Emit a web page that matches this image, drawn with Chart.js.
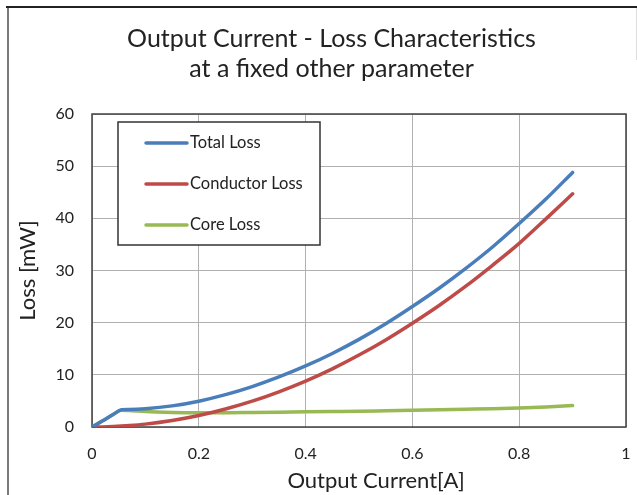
<!DOCTYPE html>
<html>
<head>
<meta charset="utf-8">
<script src="https://cdn.jsdelivr.net/npm/chart.js@4/dist/chart.umd.min.js"></script>
<style>
  html, body { margin: 0; padding: 0; background: #fff; }
  canvas { display: block; }
</style>
</head>
<body>
<canvas id="loss" width="637" height="495"></canvas>
<script>
// output current [A]
const current = [0, 0.02, 0.04, 0.055, 0.07, 0.1, 0.15, 0.2, 0.25, 0.3, 0.35, 0.4, 0.45, 0.5, 0.55, 0.6, 0.65, 0.7, 0.75, 0.8, 0.85, 0.9];
// losses [mW]
const totalLoss     = [0, 1.2, 2.45, 3.3, 3.35, 3.5, 4.05, 4.95, 6.2, 7.75, 9.6, 11.7, 14.1, 16.8, 19.8, 23.1, 26.6, 30.4, 34.5, 39.0, 43.7, 48.8];
const conductorLoss = [0, 0.02, 0.09, 0.17, 0.27, 0.55, 1.24, 2.2, 3.45, 4.95, 6.75, 8.8, 11.15, 13.8, 16.7, 19.9, 23.3, 27.0, 31.0, 35.2, 39.9, 44.7];
const coreLoss      = [0, 1.2, 2.4, 3.2, 3.15, 2.95, 2.8, 2.75, 2.75, 2.8, 2.85, 2.9, 2.95, 3.0, 3.1, 3.2, 3.3, 3.4, 3.5, 3.65, 3.85, 4.1];
const seriesNames = ['Total Loss', 'Conductor Loss', 'Core Loss'];
const seriesColors = ['#4a7ebb', '#be4b48', '#98b954'];
const xTicks = ['0', '0.2', '0.4', '0.6', '0.8', '1'];
const xTitle = 'Output Current[A]';

const FONT = 'Lato, "Open Sans", sans-serif';

function pts(ys) {
  return current.map((x, i) => ({ x: x, y: ys[i] }));
}

// outer frame, plot border, x title and boxed legend
const decor = {
  id: 'decor',
  beforeDraw(chart) {
    const c = chart.ctx;
    c.save();
    c.fillStyle = '#fff';
    c.fillRect(0, 0, chart.width, chart.height);
    c.strokeStyle = '#7a7a7a';
    c.lineWidth = 2;
    c.beginPath(); c.moveTo(8, 7); c.lineTo(8, chart.height); c.stroke();
    c.strokeStyle = '#222';
    c.beginPath(); c.moveTo(6, 7); c.lineTo(chart.width, 7); c.stroke();
    c.strokeStyle = '#ddd';
    c.lineWidth = 1;
    c.beginPath(); c.moveTo(636.5, 8); c.lineTo(636.5, 60); c.stroke();
    c.restore();
  },
  beforeDatasetsDraw(chart) {
    const a = chart.chartArea;
    const c = chart.ctx;
    c.save();
    c.strokeStyle = '#404040';
    c.lineWidth = 1.5;
    c.strokeRect(a.left, a.top, a.right - a.left, a.bottom - a.top);
    c.restore();
  },
  afterDraw(chart) {
    const a = chart.chartArea;
    const c = chart.ctx;
    c.save();
    // axis title sits a little right of the plot centre
    c.font = '22px ' + FONT;
    c.fillStyle = '#222';
    c.textAlign = 'center';
    c.textBaseline = 'middle';
    c.fillText(xTitle, (a.left + a.right) / 2 + 17, chart.height - 14);

    const bx = a.left + 26, by = a.top + 8, bw = 202, bh = 123;
    c.textAlign = 'left';
    c.fillStyle = '#fff';
    c.fillRect(bx, by, bw, bh);
    c.strokeStyle = '#333';
    c.lineWidth = 1.5;
    c.strokeRect(bx, by, bw, bh);
    c.font = '16.5px ' + FONT;
    c.fillStyle = '#222';
    chart.data.datasets.forEach((ds, i) => {
      const y = by + 21 + i * 41;
      c.strokeStyle = ds.borderColor;
      c.lineWidth = 3.5;
      c.lineCap = 'round';
      c.beginPath(); c.moveTo(bx + 28, y); c.lineTo(bx + 69, y); c.stroke();
      c.fillText(ds.label, bx + 72, y);
    });
    c.restore();
  }
};

new Chart(document.getElementById('loss'), {
  type: 'scatter',
  data: {
    datasets: [
      { label: seriesNames[0], data: pts(totalLoss), borderColor: seriesColors[0] },
      { label: seriesNames[1], data: pts(conductorLoss), borderColor: seriesColors[1] },
      { label: seriesNames[2], data: pts(coreLoss), borderColor: seriesColors[2] }
    ].map(d => Object.assign(d, {
      showLine: true, pointRadius: 0, borderWidth: 3.5,
      cubicInterpolationMode: 'monotone', fill: false,
      borderCapStyle: 'round', backgroundColor: d.borderColor
    }))
  },
  options: {
    responsive: false,
    animation: false,
    events: [],
    layout: { padding: { left: 37, right: 11, top: 0, bottom: 0 } },
    plugins: {
      legend: { display: false },
      tooltip: { enabled: false },
      title: {
        display: true,
        text: ['Output Current - Loss Characteristics', 'at a fixed other parameter'],
        color: '#222',
        font: { family: FONT, size: 25, weight: 'normal', lineHeight: 30 / 25 },
        padding: { top: 24, bottom: 30 }
      }
    },
    scales: {
      x: {
        type: 'linear', min: 0, max: 1,
        ticks: { stepSize: 0.2, padding: 17, color: '#222', font: { family: FONT, size: 16 },
                 callback: (v, i) => xTicks[i] },
        grid: { color: '#b0b0b0', lineWidth: 1, drawTicks: false, tickLength: 0 },
        border: { display: false },
        afterFit(s) { s.height = 68; s.paddingLeft = 0; s.paddingRight = 0; }
      },
      y: {
        min: 0, max: 60,
        ticks: { stepSize: 10, padding: 18, color: '#222', font: { family: FONT, size: 16 } },
        grid: { color: '#b0b0b0', lineWidth: 1, drawTicks: false, tickLength: 0 },
        border: { display: false },
        title: { display: true, text: 'Loss [mW]', color: '#222',
                 font: { family: FONT, size: 22 }, padding: { top: -22, bottom: 0 } },
        afterFit(s) { s.width = 55; s.paddingTop = 0; s.paddingBottom = 0; }
      }
    }
  },
  plugins: [decor]
});
</script>
</body>
</html>
